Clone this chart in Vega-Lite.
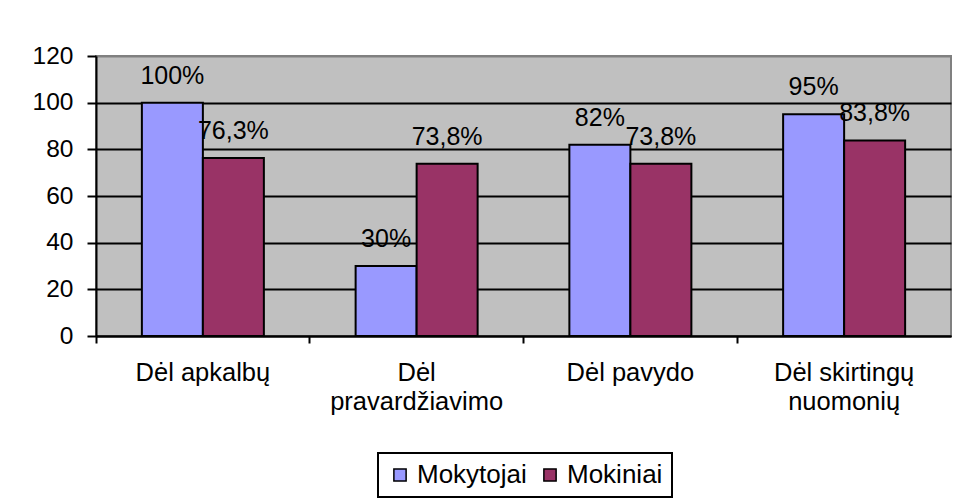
{
  "$schema": "https://vega.github.io/schema/vega-lite/v6.json",
  "autosize": "none",
  "width": 855,
  "height": 280,
  "padding": {"left": 96, "top": 56, "right": 5, "bottom": 163},
  "background": "white",
  "config": {
    "font": "Liberation Sans",
    "view": {"stroke": "#808080", "strokeWidth": 2, "fill": "#C0C0C0"}
  },
  "data": {
    "values": [
      {"kategorija": "Dėl apkalbų", "grupe": "Mokytojai", "procentai": 100, "label": "100%"},
      {"kategorija": "Dėl apkalbų", "grupe": "Mokiniai", "procentai": 76.3, "label": "76,3%"},
      {"kategorija": "Dėl pravardžiavimo", "grupe": "Mokytojai", "procentai": 30, "label": "30%"},
      {"kategorija": "Dėl pravardžiavimo", "grupe": "Mokiniai", "procentai": 73.8, "label": "73,8%"},
      {"kategorija": "Dėl pavydo", "grupe": "Mokytojai", "procentai": 82, "label": "82%"},
      {"kategorija": "Dėl pavydo", "grupe": "Mokiniai", "procentai": 73.8, "label": "73,8%"},
      {"kategorija": "Dėl skirtingų nuomonių", "grupe": "Mokytojai", "procentai": 95, "label": "95%"},
      {"kategorija": "Dėl skirtingų nuomonių", "grupe": "Mokiniai", "procentai": 83.8, "label": "83,8%"}
    ]
  },
  "encoding": {
    "x": {
      "field": "kategorija",
      "type": "nominal",
      "sort": null,
      "scale": {"paddingInner": 0, "paddingOuter": 0},
      "axis": {
        "title": null,
        "bandPosition": 0,
        "labelAngle": 0,
        "labelFontSize": 25.5,
        "labelColor": "black",
        "labelPadding": 17,
        "labelLineHeight": 29,
        "labelBaseline": "top",
        "labelExpr": "datum.label == 'Dėl pravardžiavimo' ? ['Dėl', 'pravardžiavimo'] : datum.label == 'Dėl skirtingų nuomonių' ? ['Dėl skirtingų', 'nuomonių'] : datum.label",
        "tickSize": 7,
        "tickColor": "black",
        "tickWidth": 2,
        "domainColor": "black",
        "domainWidth": 2,
        "grid": false
      }
    },
    "xOffset": {
      "field": "grupe",
      "type": "nominal",
      "sort": ["Mokytojai", "Mokiniai"],
      "scale": {"domain": ["Mokytojai", "Mokiniai"], "paddingInner": 0, "paddingOuter": 0.752}
    },
    "y": {
      "field": "procentai",
      "type": "quantitative",
      "scale": {"domain": [0, 120], "nice": false},
      "axis": {
        "title": null,
        "values": [0, 20, 40, 60, 80, 100, 120],
        "labelFontSize": 24.5,
        "labelColor": "black",
        "labelPadding": 14,
        "tickSize": 9,
        "tickColor": "black",
        "tickWidth": 2,
        "domainColor": "black",
        "domainWidth": 2,
        "grid": true,
        "gridColor": {"condition": {"test": "datum.value === 120", "value": "#808080"}, "value": "black"},
        "gridWidth": 2,
        "gridOpacity": 1
      }
    }
  },
  "layer": [
    {
      "mark": {"type": "bar", "stroke": "black", "strokeWidth": 2},
      "encoding": {
        "color": {
          "field": "grupe",
          "type": "nominal",
          "scale": {"domain": ["Mokytojai", "Mokiniai"], "range": ["#9999FF", "#993366"]},
          "legend": {
            "title": null,
            "orient": "none",
            "direction": "horizontal",
            "legendX": 282,
            "legendY": 397,
            "strokeColor": "black",
            "fillColor": "white",
            "padding": 9,
            "symbolType": "square",
            "symbolSize": 150,
            "symbolStrokeColor": "black",
            "symbolStrokeWidth": 1.5,
            "symbolOpacity": 1,
            "labelFontSize": 26,
            "labelColor": "black",
            "labelOffset": 4,
            "columnPadding": 10,
            "encode": {"legend": {"update": {"strokeWidth": {"value": 2}}}}
          }
        }
      }
    },
    {
      "mark": {"type": "text", "fontSize": 25, "color": "black", "baseline": "alphabetic", "dy": -19},
      "encoding": {
        "text": {"field": "label"}
      }
    }
  ]
}
